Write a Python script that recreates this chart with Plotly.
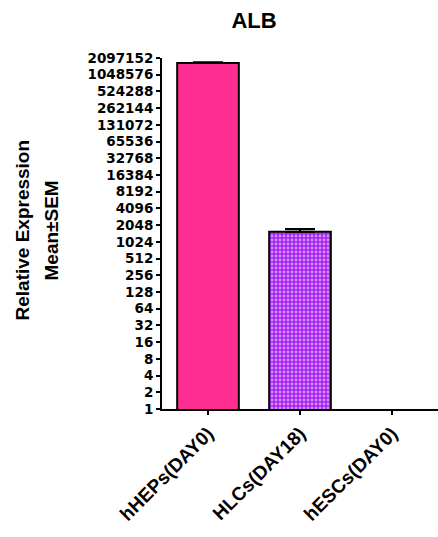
import plotly.graph_objects as go

# Relative ALB expression (log2 scale), mean with upward SEM
groups = ["hHEPs(DAY0)", "HLCs(DAY18)", "hESCs(DAY0)"]
mean_expr = [1700000, 1560, 1]
sem_expr = [60000, 180, 0]
bar_colors = ["#FF2E93", "#A51FF2", "#FFFFFF"]

y_tick_vals = [2 ** k for k in range(0, 22)]
y_tick_text = [str(v) for v in y_tick_vals]

FONT = "Arial, Liberation Sans, sans-serif"
TICK_FONT = "DejaVu Sans, Arial, sans-serif"

fig = go.Figure()
fig.add_trace(go.Bar(
    x=groups,
    y=mean_expr,
    width=0.67,
    marker=dict(
        color=bar_colors,
        line=dict(color="black", width=[2, 2, 0]),
        pattern=dict(shape=["", ".", ""], fgcolor="#BE45F4", bgcolor="#A51FF2",
                     size=4, solidity=0.4, fillmode="overlay"),
    ),
    showlegend=False,
))

# Upward SEM whiskers, only for groups with a non-zero SEM
err_idx = [i for i, s in enumerate(sem_expr) if s > 0]
fig.add_trace(go.Scatter(
    x=[groups[i] for i in err_idx],
    y=[mean_expr[i] for i in err_idx],
    mode="markers",
    marker=dict(size=0.1, color="rgba(0,0,0,0)"),
    error_y=dict(type="data", symmetric=False,
                 array=[sem_expr[i] for i in err_idx],
                 arrayminus=[0] * len(err_idx),
                 color="black", thickness=2, width=15),
    showlegend=False, hoverinfo="skip",
))

fig.update_layout(
    width=438, height=537,
    margin=dict(l=162, r=0, t=58, b=128),
    plot_bgcolor="white", paper_bgcolor="white",
    font=dict(family=FONT, color="black"),
    title=dict(text="ALB", x=254 / 438, xref="container", xanchor="center",
               y=1 - 20 / 537, yref="container", yanchor="middle",
               font=dict(family=FONT, size=22, weight="bold", color="black")),
    xaxis=dict(
        range=[-0.5, 2.5],
        showline=True, linecolor="black", linewidth=2,
        ticks="outside", ticklen=4, tickwidth=2, tickcolor="black",
        tickangle=-45,
        tickfont=dict(family=FONT, size=19, weight="bold", color="black"),
        showgrid=False, zeroline=False,
    ),
    yaxis=dict(
        type="log",
        range=[0, 21 * 0.30102999566],
        tickvals=y_tick_vals, ticktext=y_tick_text,
        showline=True, linecolor="black", linewidth=2,
        ticks="outside", ticklen=4, tickwidth=2, tickcolor="black",
        tickfont=dict(family=TICK_FONT, size=13.5, weight="bold", color="black"),
        showgrid=False, zeroline=False,
    ),
    bargap=0.33,
)

# Two-line y-axis caption
for txt, shift in [("Relative Expression", -140), ("Mean±SEM", -111)]:
    fig.add_annotation(
        text=txt, textangle=-90, showarrow=False,
        xref="paper", yref="paper", x=0, y=0.5,
        xanchor="center", yanchor="middle", xshift=shift, yshift=3,
        font=dict(family=FONT, size=19, weight="bold", color="black"),
    )

fig.write_html("out.html")
